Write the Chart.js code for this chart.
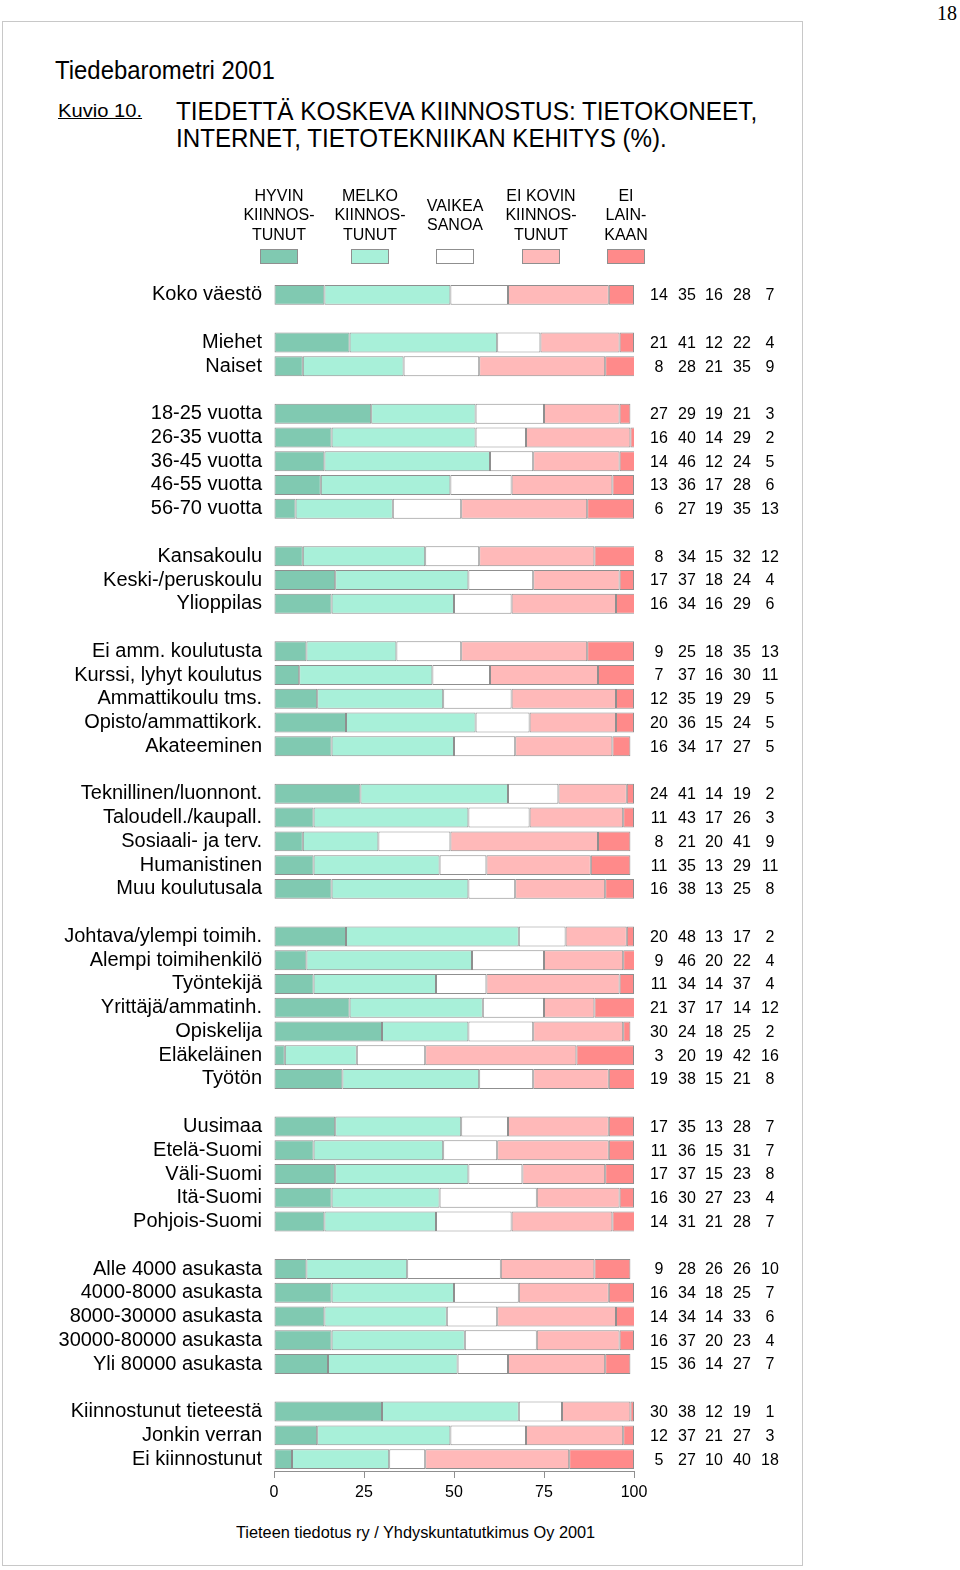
<!DOCTYPE html>
<html lang="fi">
<head>
<meta charset="utf-8">
<title>Tiedebarometri 2001 - Kuvio 10</title>
<script src="https://cdn.jsdelivr.net/npm/chart.js@4.4.1/dist/chart.umd.min.js"></script>
<style>
  html, body { margin: 0; padding: 0; background: #fff; }
  body { width: 960px; height: 1570px; position: relative; overflow: hidden;
         font-family: Arial, "Liberation Sans", sans-serif; color: #000; }
  #frame { position: absolute; left: 2px; top: 21px; width: 799px; height: 1543px; border: 1px solid #c8c8c8; }
  #chart { position: absolute; left: 0; top: 0; }
  .txt { position: absolute; white-space: nowrap; line-height: 1; transform-origin: 0 0; }
  #pageNo { left: 937px; top: 3px; font-family: "Liberation Serif", "DejaVu Serif", serif; font-size: 20px; }
  #survey { left: 55px; top: 58px; font-size: 25px; }
  #kuvio { left: 58px; top: 102px; font-size: 18px; text-decoration: underline; }
  #title1 { left: 176px; top: 98px; font-size: 26px; }
  #title2 { left: 176px; top: 125px; font-size: 26px; }
  #source { left: 236px; top: 1525px; font-size: 16px; }
</style>
</head>
<body>
<div id="frame"></div>
<div class="txt" id="pageNo">18</div>
<div class="txt" id="survey" data-w="220">Tiedebarometri 2001</div>
<div class="txt" id="kuvio" data-w="84">Kuvio 10.</div>
<div class="txt" id="title1" data-w="581">TIEDETTÄ KOSKEVA KIINNOSTUS: TIETOKONEET,</div>
<div class="txt" id="title2" data-w="491">INTERNET, TIETOTEKNIIKAN KEHITYS (%).</div>
<div class="txt" id="source" data-w="359">Tieteen tiedotus ry / Yhdyskuntatutkimus Oy 2001</div>
<canvas id="chart" width="960" height="1570"></canvas>
<script>
// ===== Data ('' = empty row between groups) =====
const categories = [
  'Koko väestö', '',
  'Miehet', 'Naiset', '',
  '18-25 vuotta', '26-35 vuotta', '36-45 vuotta', '46-55 vuotta', '56-70 vuotta', '',
  'Kansakoulu', 'Keski-/peruskoulu', 'Ylioppilas', '',
  'Ei amm. koulutusta', 'Kurssi, lyhyt koulutus', 'Ammattikoulu tms.', 'Opisto/ammattikork.', 'Akateeminen', '',
  'Teknillinen/luonnont.', 'Taloudell./kaupall.', 'Sosiaali- ja terv.', 'Humanistinen', 'Muu koulutusala', '',
  'Johtava/ylempi toimih.', 'Alempi toimihenkilö', 'Työntekijä', 'Yrittäjä/ammatinh.', 'Opiskelija', 'Eläkeläinen', 'Työtön', '',
  'Uusimaa', 'Etelä-Suomi', 'Väli-Suomi', 'Itä-Suomi', 'Pohjois-Suomi', '',
  'Alle 4000 asukasta', '4000-8000 asukasta', '8000-30000 asukasta', '30000-80000 asukasta', 'Yli 80000 asukasta', '',
  'Kiinnostunut tieteestä', 'Jonkin verran', 'Ei kiinnostunut'
];

const seriesNames = [
  ['HYVIN', 'KIINNOS-', 'TUNUT'],
  ['MELKO', 'KIINNOS-', 'TUNUT'],
  ['VAIKEA', 'SANOA'],
  ['EI KOVIN', 'KIINNOS-', 'TUNUT'],
  ['EI', 'LAIN-', 'KAAN']
];

const hyvin = [14, null, 21, 8, null, 27, 16, 14, 13, 6, null, 8, 17, 16, null,
  9, 7, 12, 20, 16, null, 24, 11, 8, 11, 16, null, 20, 9, 11, 21, 30, 3, 19, null,
  17, 11, 17, 16, 14, null, 9, 16, 14, 16, 15, null, 30, 12, 5];
const melko = [35, null, 41, 28, null, 29, 40, 46, 36, 27, null, 34, 37, 34, null,
  25, 37, 35, 36, 34, null, 41, 43, 21, 35, 38, null, 48, 46, 34, 37, 24, 20, 38, null,
  35, 36, 37, 30, 31, null, 28, 34, 34, 37, 36, null, 38, 37, 27];
const vaikea = [16, null, 12, 21, null, 19, 14, 12, 17, 19, null, 15, 18, 16, null,
  18, 16, 19, 15, 17, null, 14, 17, 20, 13, 13, null, 13, 20, 14, 17, 18, 19, 15, null,
  13, 15, 15, 27, 21, null, 26, 18, 14, 20, 14, null, 12, 21, 10];
const eiKovin = [28, null, 22, 35, null, 21, 29, 24, 28, 35, null, 32, 24, 29, null,
  35, 30, 29, 24, 27, null, 19, 26, 41, 29, 25, null, 17, 22, 37, 14, 25, 42, 21, null,
  28, 31, 23, 23, 28, null, 26, 25, 33, 23, 27, null, 19, 27, 40];
const eiLainkaan = [7, null, 4, 9, null, 3, 2, 5, 6, 13, null, 12, 4, 6, null,
  13, 11, 5, 5, 5, null, 2, 3, 9, 11, 8, null, 2, 4, 4, 12, 2, 16, 8, null,
  7, 7, 8, 4, 7, null, 10, 7, 6, 4, 7, null, 1, 3, 18];

const xTicks = [0, 25, 50, 75, 100];

// ===== Styles =====
const colors = ['#80c9b1', '#a8f0d9', '#ffffff', '#ffb9b9', '#ff8a8a'];
const edge = '#8f8f8f';
const font = 'Arial, "Liberation Sans", sans-serif';
const numCols = [659, 687, 714, 742, 770];      // right-hand value columns
const legendX = [279, 370, 455, 541, 626];      // legend column centres

// ===== Squeeze HTML headings to the reference widths =====
document.querySelectorAll('.txt[data-w]').forEach(el => {
  const k = +el.dataset.w / el.offsetWidth;
  el.style.transform = 'scaleX(' + k + ')';
});

// ===== Legend drawn above the bars =====
const legendPlugin = {
  id: 'colLegend',
  afterDraw(chart) {
    const c = chart.ctx;
    c.save();
    c.font = '16px ' + font;
    c.fillStyle = '#000';
    c.textAlign = 'center';
    c.textBaseline = 'middle';
    chart.data.datasets.forEach((ds, i) => {
      const lines = seriesNames[i];
      const y0 = 216 - (lines.length - 1) * 19.5 / 2;
      lines.forEach((t, j) => c.fillText(t, legendX[i], y0 + j * 19.5));
      c.fillStyle = ds.backgroundColor;
      c.fillRect(legendX[i] - 18.5, 249, 37, 14);
      c.strokeStyle = edge;
      c.lineWidth = 1;
      c.strokeRect(legendX[i] - 18.5, 249.5, 37, 14);
      c.fillStyle = '#000';
    });
    c.restore();
  }
};

// ===== Percentages printed right of each bar =====
const valuesPlugin = {
  id: 'rowValues',
  afterDatasetsDraw(chart) {
    const c = chart.ctx;
    c.save();
    c.font = '16px ' + font;
    c.fillStyle = '#000';
    c.textAlign = 'center';
    c.textBaseline = 'middle';
    chart.data.datasets.forEach((ds, i) => {
      chart.getDatasetMeta(i).data.forEach((bar, k) => {
        if (ds.data[k] == null) return;
        c.fillText(String(ds.data[k]), numCols[i], bar.y + 1);
      });
    });
    c.restore();
  }
};

const series = [hyvin, melko, vaikea, eiKovin, eiLainkaan];

new Chart(document.getElementById('chart').getContext('2d'), {
  type: 'bar',
  data: {
    labels: categories,
    datasets: series.map((vals, i) => ({
      label: seriesNames[i].join(' '),
      data: vals,
      backgroundColor: colors[i],
      borderColor: edge,
      borderWidth: 1,
      borderSkipped: false,
      barPercentage: 0.84,
      categoryPercentage: 1
    }))
  },
  options: {
    indexAxis: 'y',
    responsive: false,
    animation: false,
    devicePixelRatio: 1,
    layout: { padding: { top: 283, right: 326, bottom: 59, left: 0 } },
    plugins: { legend: { display: false }, tooltip: { enabled: false } },
    scales: {
      x: {
        stacked: true, min: 0, max: 100,
        afterBuildTicks(s) { s.ticks = xTicks.map(v => ({ value: v })); },
        ticks: { color: '#000', font: { family: font, size: 16 }, padding: 5 },
        grid: { drawOnChartArea: false, drawTicks: true, tickLength: 7, color: edge },
        border: { display: true, color: edge },
        afterFit(s) { s.height = 40; }
      },
      y: {
        stacked: true,
        ticks: { autoSkip: false, color: '#000', font: { family: font, size: 20 }, padding: 12 },
        grid: { display: false, drawTicks: false },
        border: { display: false },
        afterFit(s) { s.width = 274; }
      }
    }
  },
  plugins: [legendPlugin, valuesPlugin]
});
</script>
</body>
</html>
